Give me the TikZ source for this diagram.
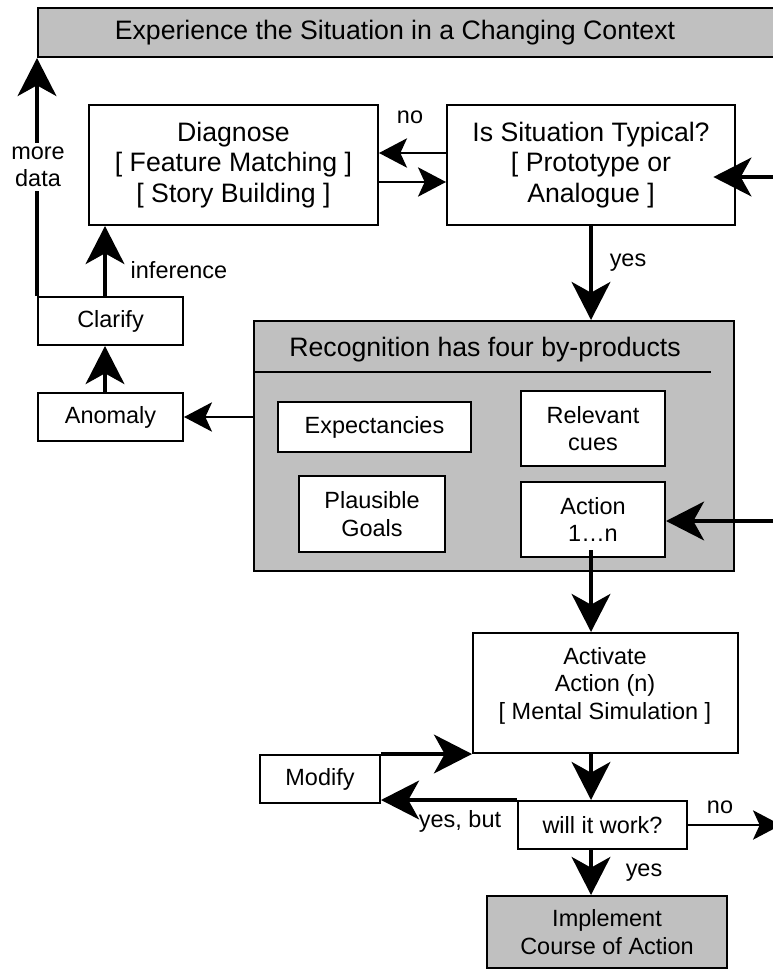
\documentclass[tikz,border=0pt]{standalone}
\usepackage{fontspec}
\setmainfont{Liberation Sans}
\usetikzlibrary{arrows.meta}
\definecolor{panel}{HTML}{C0C0C0}
\newcommand\bigfont{\fontsize{20}{23}\selectfont}
\newcommand\smallfont{\fontsize{17.6}{20.6}\selectfont}

\begin{document}
\begin{tikzpicture}[x=0.75pt,y=-0.75pt,
  box/.style={draw, line width=1.5pt, fill=white, inner sep=0pt, align=center, font=\smallfont},
  bigbox/.style={box, font=\bigfont},
  shaded/.style={fill=panel},
  lbl/.style={font=\smallfont, align=center, inner sep=1pt},
  thinarrow/.style={line width=1.5pt, -{Stealth[length=21pt,width=22pt,inset=5pt]}},
  thickarrow/.style={line width=3pt, -{Stealth[length=28.5pt,width=29pt,inset=8pt]}},
  plain/.style={line width=1.5pt},
]
\useasboundingbox (0,0) rectangle (773,969);
\fill[white] (0,0) rectangle (773,969);
\clip (0,0) rectangle (773,969);

% boxes
\node[box, shaded, minimum width=571.5pt, minimum height=36.75pt] (exp) at (419,32.5) {};
\node[font=\bigfont] (expT) at (395,33) {Experience the Situation in a Changing Context};

\node[bigbox, minimum width=216.75pt, minimum height=90pt] (diag) at (233.5,165)
  {Diagnose\\{}[ Feature Matching ]\\{}[ Story Building ]};
\node[bigbox, minimum width=216pt, minimum height=90pt] (typ) at (591,165)
  {Is Situation Typical?\\{}[ Prototype or\\Analogue ]};

\node[box, minimum width=108.75pt, minimum height=36pt] (clar) at (110.5,321) {Clarify};
\node[box, minimum width=108.75pt, minimum height=36pt] (anom) at (110.5,417) {Anomaly};

\node[box, shaded, minimum width=360pt, minimum height=187.5pt] (rec) at (494,446) {};
\node[font=\bigfont] (recT) at (485,350) {Recognition has four by-products};
\coordinate (sepEnd) at (711,372);
\draw[plain] (rec.west |- sepEnd) -- (sepEnd);

\node[box, minimum width=144.75pt, minimum height=37.5pt] (expc) at (374.5,427) {Expectancies};
\node[box, minimum width=108pt, minimum height=56.25pt] (rel) at (593,428.5) {Relevant\\cues};
\node[box, minimum width=109.5pt, minimum height=57pt] (pla) at (372,514) {Plausible\\Goals};
\node[box, minimum width=108pt, minimum height=56.25pt] (act) at (593,519.5) {Action\\1\ldots n};

\node[box, minimum width=198.75pt, minimum height=90pt] (activ) at (605.5,693) {};
\node[lbl] (activT) at (605,685.5) {Activate\\Action (n)\\{}[ Mental Simulation ]};

\node[box, minimum width=126.75pt, minimum height=36pt] (ww) at (602.5,825) {will it work?};
\node[box, minimum width=90pt, minimum height=36pt] (mod) at (320,779) {Modify};
\node[box, shaded, minimum width=180pt, minimum height=54pt] (impl) at (607,932)
  {Implement\\Course of Action};

% guide coordinates for connectors
\coordinate (colA) at (105,0);
\coordinate (colB) at (591,0);
\coordinate (noY) at (0,153);
\coordinate (goY) at (0,182);
\coordinate (inTop) at (785,177);
\coordinate (inAct) at (785,521);
\coordinate (outNo) at (781,825);

% connectors
\draw[thinarrow] (typ.west |- noY) -- (diag.east |- noY);
\draw[thinarrow] (diag.east |- goY) -- (typ.west |- goY);
\draw[thickarrow, shorten >=-17pt] (inTop) -- (typ.east |- inTop);
\draw[thickarrow] (typ.south -| colB) -- (rec.north -| colB);
\draw[thickarrow] (inAct) -- (act.east |- inAct);
\draw[thickarrow, shorten <=-6pt] (act.south -| colB) -- (activ.north -| colB);
\draw[thickarrow] (activ.south -| colB) -- (ww.north -| colB);
\draw[thickarrow] (ww.south -| colB) -- (impl.north -| colB);
\draw[thinarrow] (ww.east) -- (outNo);
\draw[thickarrow] (ww.north west) -- (ww.north west -| mod.east);
\draw[thickarrow] (mod.north east) -- (mod.north east -| activ.west);
\draw[thinarrow] (rec.west |- anom.east) -- (anom.east);
\draw[thickarrow] (anom.north -| colA) -- (clar.south -| colA);
\draw[thickarrow] (clar.north -| colA) -- (diag.south -| colA);
\draw[thickarrow] (clar.north west) -- (exp.south west);

% connector labels
\node[lbl, fill=white, inner sep=3pt] (moreData) at (38,167) {more\\data};
\node[lbl] (noTop) at (410,117) {no};
\node[lbl] (yesTop) at (628,263) {yes};
\node[lbl] (infer) at (179,270) {inference};
\node[lbl] (yesBut) at (460,821) {yes, but};
\node[lbl] (noBot) at (720,807) {no};
\node[lbl] (yesBot) at (644,873) {yes};
\end{tikzpicture}
\end{document}
